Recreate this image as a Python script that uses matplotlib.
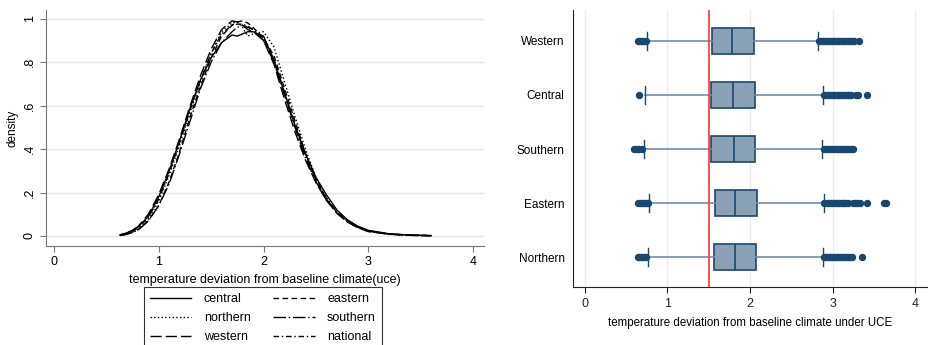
# Density curves by region and box plots of temperature deviation under UCE.

import matplotlib
matplotlib.use("Agg")
import matplotlib.pyplot as plt

plt.rcParams['font.family'] = ['Liberation Sans', 'DejaVu Sans']

# ---- left panel: kernel densities ----
xgrid = [0.63, 0.7, 0.8, 0.9, 1.0, 1.1, 1.2, 1.3, 1.4, 1.5, 1.6, 1.7, 1.75, 1.8,
         1.85, 1.9, 2.0, 2.1, 2.2, 2.3, 2.4, 2.5, 2.6, 2.7, 2.8, 2.9, 3.0, 3.2, 3.4, 3.6]
central = [.005, .014, .04, .09, .18, .30, .44, .59, .72, .82, .89, .925, .92, .93,
           .94, .94, .92, .81, .66, .51, .38, .27, .19, .12, .075, .045, .026, .01, .004, .002]
eastern = [.003, .009, .028, .07, .14, .25, .39, .55, .69, .82, .92, .97, .985, .99,
           .98, .96, .91, .83, .68, .53, .38, .26, .17, .11, .07, .042, .024, .009, .004, .002]
northern = [.003, .01, .03, .078, .16, .28, .42, .57, .71, .84, .94, .98, .985, .96,
            .92, .93, .94, .87, .71, .55, .40, .27, .175, .11, .068, .04, .022, .008, .003, .001]
southern = [.002, .008, .026, .068, .14, .24, .38, .53, .68, .80, .89, .94, .96, .97,
            .96, .95, .90, .80, .65, .50, .36, .25, .165, .105, .065, .04, .023, .009, .003, .001]
western = [.005, .015, .042, .10, .19, .31, .45, .60, .74, .86, .95, .99, .985, .97,
           .95, .94, .90, .79, .63, .48, .35, .245, .165, .105, .065, .038, .02, .008, .003, .001]
national = [.004, .012, .035, .085, .17, .29, .43, .58, .72, .84, .93, .97, .975, .975,
            .965, .95, .91, .81, .66, .51, .37, .26, .175, .11, .07, .042, .024, .009, .004, .002]

density_labels = ['central', 'northern', 'western', 'eastern', 'southern', 'national']
density_series = [central, northern, western, eastern, southern, national]
dash_styles = ['-', ':', (0, (8, 3)), (0, (4, 2.5)), (0, (9, 2, 1, 2)), (0, (4, 2, 1, 2))]

# ---- right panel: box plot summaries ----
regions = ['Northern', 'Eastern', 'Southern', 'Central', 'Western']
q1 = [1.56, 1.573, 1.532, 1.532, 1.536]
med = [1.818, 1.815, 1.81, 1.798, 1.786]
q3 = [2.076, 2.088, 2.064, 2.064, 2.052]
whislo = [0.766, 0.774, 0.717, 0.733, 0.757]
whishi = [2.883, 2.891, 2.871, 2.883, 2.826]
fliers = [
    [0.64, 0.66, 0.68, 0.70, 0.72, 0.74,
     2.89, 2.91, 2.93, 2.95, 2.97, 2.99, 3.01, 3.03, 3.05, 3.07, 3.09, 3.11, 3.13,
     3.15, 3.17, 3.19, 3.21, 3.23, 3.36],
    [0.65, 0.67, 0.69, 0.71, 0.73, 0.75, 0.77,
     2.90, 2.92, 2.94, 2.96, 2.98, 3.00, 3.02, 3.04, 3.06, 3.08, 3.10, 3.12, 3.14,
     3.16, 3.18, 3.24, 3.27, 3.30, 3.33, 3.41, 3.62, 3.65],
    [0.60, 0.62, 0.64, 0.66, 0.70,
     2.89, 2.91, 2.93, 2.95, 2.97, 2.99, 3.01, 3.03, 3.05, 3.07, 3.09, 3.11, 3.13,
     3.15, 3.17, 3.19, 3.21, 3.23, 3.25],
    [0.66,
     2.90, 2.92, 2.94, 2.96, 2.98, 3.00, 3.02, 3.04, 3.06, 3.08, 3.10, 3.12, 3.14,
     3.16, 3.18, 3.20, 3.22, 3.28, 3.31, 3.41],
    [0.648, 0.66, 0.68, 0.70, 0.72, 0.74,
     2.84, 2.86, 2.88, 2.90, 2.92, 2.94, 2.96, 2.98, 3.00, 3.02, 3.04, 3.06, 3.08,
     3.10, 3.12, 3.14, 3.16, 3.18, 3.20, 3.22, 3.24, 3.26, 3.32],
]
threshold = 1.5

navy = '#1a476f'
box_fill = '#8ba1b6'
whisk = '#6f8fae'

fig = plt.figure(figsize=(9.29, 3.45), dpi=100)

# left panel
ax1 = fig.add_axes([0.0495, 0.287, 0.471, 0.684])
for lab, y, ls in zip(density_labels, density_series, dash_styles):
    ax1.plot(xgrid, y, color='black', lw=1.0, linestyle=ls, label=lab)
ax1.set_xlim(-0.076, 4.1)
ax1.set_ylim(-0.046, 1.04)
ax1.set_xticks([0, 1, 2, 3, 4])
ax1.set_yticks([0, .2, .4, .6, .8, 1])
ax1.set_yticklabels(['0', '.2', '.4', '.6', '.8', '1'], rotation=90, va='center')
ax1.grid(axis='y', color='#e6e6e6', lw=1.0)
ax1.set_axisbelow(True)
for s in ['top', 'right']:
    ax1.spines[s].set_visible(False)
for s in ['left', 'bottom']:
    ax1.spines[s].set_color('#777777')
ax1.tick_params(colors='#777777', labelcolor='black', labelsize=9, length=4)
ax1.set_xlabel('temperature deviation from baseline climate(uce)', fontsize=9, labelpad=4)
ax1.set_ylabel('density', fontsize=8.5, labelpad=4)

# legend rows: central/eastern, northern/southern, western/national
leg = fig.legend(ncol=2, loc='upper left', bbox_to_anchor=(144 / 929, 1 - 287 / 345),
                 borderaxespad=0, fontsize=9, frameon=True, fancybox=False,
                 edgecolor='black', handlelength=3.3, handletextpad=1.0,
                 columnspacing=1.8, labelspacing=0.55, borderpad=0.5)
leg.get_frame().set_linewidth(0.8)

# right panel
ax2 = fig.add_axes([0.6168, 0.167, 0.381, 0.804])
stats = []
for i in range(len(regions)):
    stats.append(dict(label=regions[i], q1=q1[i], med=med[i], q3=q3[i],
                      whislo=whislo[i], whishi=whishi[i], fliers=fliers[i]))
ax2.bxp(stats, positions=list(range(len(regions))), widths=0.48, capwidths=0.33,
        orientation='horizontal', patch_artist=True,
        boxprops=dict(facecolor=box_fill, edgecolor=navy, lw=1.2),
        medianprops=dict(color=navy, lw=1.2),
        whiskerprops=dict(color=whisk, lw=1.2),
        capprops=dict(color=navy, lw=1.0),
        flierprops=dict(marker='o', markerfacecolor=navy, markeredgecolor=navy,
                        markersize=4.3))
ax2.axvline(threshold, color='#ff3333', lw=1.2, zorder=4)
ax2.set_xlim(-0.14, 4.14)
ax2.set_ylim(-0.556, 4.57)
ax2.set_xticks([0, 1, 2, 3, 4])
ax2.set_yticks(range(len(regions)))
ax2.set_yticklabels(regions)
ax2.grid(axis='x', color='#e8eef0', lw=1.0)
ax2.set_axisbelow(True)
for s in ['top', 'right']:
    ax2.spines[s].set_visible(False)
for s in ['left', 'bottom']:
    ax2.spines[s].set_color('#222222')
ax2.tick_params(axis='x', labelsize=9, length=4, colors='#222222')
ax2.tick_params(axis='y', labelsize=8.5, length=0, pad=6)
ax2.set_xlabel('temperature deviation from baseline climate under UCE', fontsize=8.3, labelpad=5)

fig.savefig('out.png', dpi=100)
